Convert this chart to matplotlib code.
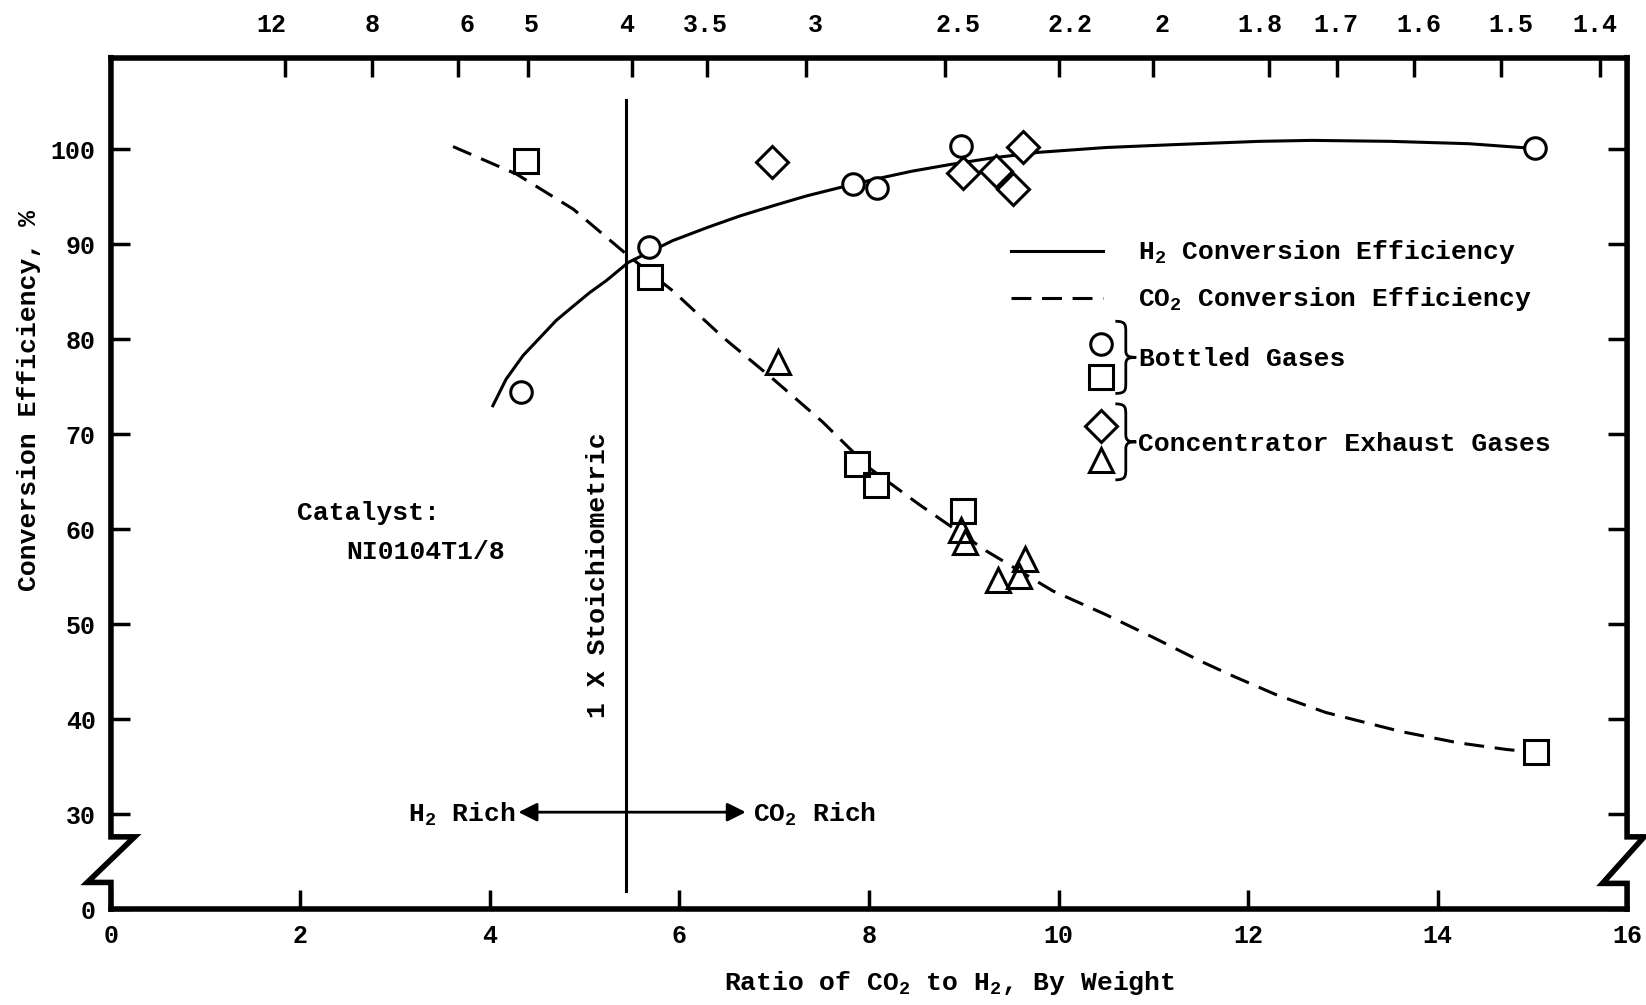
import numpy as np
import matplotlib
matplotlib.use('Agg')
from matplotlib import pyplot as plt
from matplotlib.path import Path
from matplotlib.patches import PathPatch

plt.rcParams['font.family'] = 'Liberation Mono'
plt.rcParams['font.weight'] = 'bold'
plt.rcParams['mathtext.fontset'] = 'custom'
plt.rcParams['mathtext.rm'] = 'Liberation Mono:bold'
plt.rcParams['mathtext.it'] = 'Liberation Mono:bold'
plt.rcParams['mathtext.bf'] = 'Liberation Mono:bold'

# measured points (ratio CO2/H2 by weight, conversion efficiency %)
circle_x = [4.33, 5.68, 7.83, 8.08, 8.97, 15.03]
circle_y = [74.5, 89.7, 96.4, 95.9, 100.4, 100.1]
square_x = [4.38, 5.69, 7.87, 8.07, 8.99, 15.04]
square_y = [98.8, 86.6, 66.9, 64.7, 61.9, 36.5]
diamond_x = [6.98, 8.99, 9.34, 9.52, 9.62]
diamond_y = [98.7, 97.5, 97.7, 95.8, 100.3]
triangle_x = [7.04, 8.97, 9.01, 9.36, 9.58, 9.65]
triangle_y = [77.6, 59.9, 58.7, 54.7, 55.1, 56.9]

# faired curves
h2_x = [4.03, 4.17, 4.35, 4.53, 4.70, 4.88, 5.05, 5.23, 5.46, 5.93, 6.30,
        6.64, 7.00, 7.34, 7.82, 8.08, 8.45, 8.85, 9.30, 9.80, 10.50, 11.21,
        12.12, 12.67, 13.50, 14.33, 15.02]
h2_y = [73.0, 75.8, 78.3, 80.2, 82.0, 83.5, 84.9, 86.2, 88.1, 90.4, 91.8,
        93.0, 94.1, 95.1, 96.3, 96.9, 97.7, 98.4, 99.1, 99.7, 100.2, 100.5,
        100.85, 100.95, 100.85, 100.6, 100.1]
co2_x = [3.61, 4.28, 4.88, 5.46, 5.93, 6.46, 6.99, 7.51, 8.01, 8.53, 9.24,
         9.94, 10.50, 11.00, 11.50, 11.85, 12.29, 12.82, 13.61, 14.22, 14.73,
         15.04]
co2_y = [100.3, 97.4, 93.7, 88.8, 85.1, 80.2, 75.8, 71.3, 66.4, 62.6, 57.7,
         53.5, 51.0, 48.6, 46.1, 44.5, 42.6, 40.7, 38.7, 37.5, 36.8, 36.5]

# axis labels
x_ticks = [0, 2, 4, 6, 8, 10, 12, 14, 16]
y_ticks = [20, 30, 40, 50, 60, 70, 80, 90, 100]
y_labels = ['0', '30', '40', '50', '60', '70', '80', '90', '100']
top_ratio = [12, 8, 6, 5, 4, 3.5, 3, 2.5, 2.2, 2, 1.8, 1.7, 1.6, 1.5, 1.4]
top_labels = ['12', '8', '6', '5', '4', '3.5', '3', '2.5', '2.2', '2',
              '1.8', '1.7', '1.6', '1.5', '1.4']
# typed labels sit a little off their ticks on the original
top_label_x = [1.69, 2.76, 3.76, 4.44, 5.44, 6.27, 7.43, 8.94, 10.12, 11.09,
               12.12, 12.93, 13.80, 14.77, 15.66]
stoich_x = 5.44

fig = plt.figure(figsize=(16.46, 10.05), dpi=100)
ax = fig.add_axes([0.0674, 0.0955, 0.9211, 0.8471])
ax.set_xlim(0, 16)
ax.set_ylim(20, 109.66)

lw = 2.2
ax.plot(h2_x, h2_y, color='black', lw=lw, zorder=2)
ax.plot(co2_x, co2_y, color='black', lw=lw, dashes=(6.5, 3.5), zorder=2)


def markers(xs, ys, m, ms):
    # white fill hides the curve, open outline on top
    ax.plot(xs, ys, ls='none', marker=m, ms=ms, mfc='white', mec='white',
            mew=0, zorder=4, clip_on=False)
    ax.plot(xs, ys, ls='none', marker=m, ms=ms, mfc='none', mec='black',
            mew=lw, zorder=5, clip_on=False)


markers(circle_x, circle_y, 'o', 15.5)
markers(square_x, square_y, 's', 17)
markers(diamond_x, diamond_y, 'D', 16.5)
markers(triangle_x, triangle_y, '^', 17)

# stoichiometric line and arrows
ax.plot([stoich_x, stoich_x], [21.9, 105.25], color='black', lw=lw, zorder=3)
ax.annotate('', xy=(4.30, 30.2), xytext=(stoich_x, 30.2),
            arrowprops=dict(arrowstyle='-|>', color='black', lw=2,
                            mutation_scale=28, shrinkA=0, shrinkB=0))
ax.annotate('', xy=(6.70, 30.2), xytext=(stoich_x, 30.2),
            arrowprops=dict(arrowstyle='-|>', color='black', lw=2,
                            mutation_scale=28, shrinkA=0, shrinkB=0))
ax.text(4.27, 29.2, 'H$_2$ Rich', fontsize=19, ha='right', va='baseline')
ax.text(6.78, 29.2, 'CO$_2$ Rich', fontsize=19, ha='left', va='baseline')
ax.text(5.14, 55.2, '1 X Stoichiometric', fontsize=19, rotation=90,
        ha='center', va='center')
ax.text(1.96, 61.7, 'Catalyst:', fontsize=19, ha='left', va='center')
ax.text(2.48, 57.6, 'NI0104T1/8', fontsize=19, ha='left', va='center')

# legend drawn by hand
ax.plot([9.50, 10.47], [89.3, 89.3], color='black', lw=lw)
ax.plot([9.50, 10.47], [84.3, 84.3], color='black', lw=lw, dashes=(6.5, 3.5))
ax.text(10.84, 88.5, 'H$_2$ Conversion Efficiency', fontsize=19, va='baseline')
ax.text(10.84, 83.5, 'CO$_2$ Conversion Efficiency', fontsize=19, va='baseline')
markers([10.45], [79.5], 'o', 15.5)
markers([10.45], [76.0], 's', 17)
markers([10.45], [70.9], 'D', 16.5)
markers([10.45], [67.3], '^', 17)


def brace(x0, y0, y1, w):
    h = y1 - y0
    ym = (y0 + y1) / 2
    xm = x0 + w * 0.5
    verts = [(x0, y1),
             (xm, y1), (xm, y1 - 0.05 * h), (xm, y1 - 0.15 * h),
             (xm, ym + 0.1 * h),
             (xm, ym + 0.02 * h), (x0 + w * 0.6, ym), (x0 + w, ym),
             (x0 + w * 0.6, ym), (xm, ym - 0.02 * h), (xm, ym - 0.1 * h),
             (xm, y0 + 0.15 * h),
             (xm, y0 + 0.05 * h), (xm, y0), (x0, y0)]
    codes = [Path.MOVETO] + [Path.CURVE4] * 3 + [Path.LINETO] + \
        [Path.CURVE4] * 6 + [Path.LINETO] + [Path.CURVE4] * 3
    ax.add_patch(PathPatch(Path(verts, codes), fc='none', ec='black', lw=2))


brace(10.60, 74.3, 81.9, 0.22)
brace(10.60, 65.2, 73.2, 0.22)
ax.text(10.85, 77.2, 'Bottled Gases', fontsize=19, va='baseline')
ax.text(10.84, 68.2, 'Concentrator Exhaust Gases', fontsize=19, va='baseline')

# axes frame with broken y axis
for s in ['left', 'right']:
    ax.spines[s].set_visible(False)
for s in ['top', 'bottom']:
    ax.spines[s].set_linewidth(4)
ax.plot([0, 0, 0.25, -0.25, 0, 0], [109.66, 27.6, 27.6, 22.8, 22.8, 20],
        color='black', lw=4, clip_on=False, solid_joinstyle='miter')
ax.plot([16, 16, 16.18, 15.74, 16, 16], [109.66, 27.6, 27.6, 22.7, 22.7, 20],
        color='black', lw=4, clip_on=False, solid_joinstyle='miter')

ax.set_xticks(x_ticks)
ax.set_yticks(y_ticks)
ax.set_yticklabels(y_labels)
ax.tick_params(axis='both', direction='in', length=14, width=2.5,
               labelsize=18, pad=11)
ax.tick_params(axis='y', right=True)

# top scale: tick marks at 22/r, labels where they were typed
ax2 = ax.twiny()
ax2.set_xlim(0, 16)
ax2.set_xticks([22.0 / r for r in top_ratio])
ax2.set_xticklabels([])
ax2.set_xticks(top_label_x, minor=True)
ax2.set_xticklabels(top_labels, minor=True)
ax2.tick_params(which='major', direction='in', length=14, width=2.5)
ax2.tick_params(which='minor', direction='in', length=0, labelsize=18, pad=15)
for s in ax2.spines.values():
    s.set_visible(False)

ax.text(8.85, -0.095, 'Ratio of CO$_2$ to H$_2$, By Weight', fontsize=19,
        ha='center', va='baseline', transform=ax.get_xaxis_transform())
ax.text(-0.054, 0.597, 'Conversion Efficiency, %', fontsize=19, rotation=90,
        ha='center', va='center', transform=ax.transAxes)

fig.savefig('out.png', dpi=100)
